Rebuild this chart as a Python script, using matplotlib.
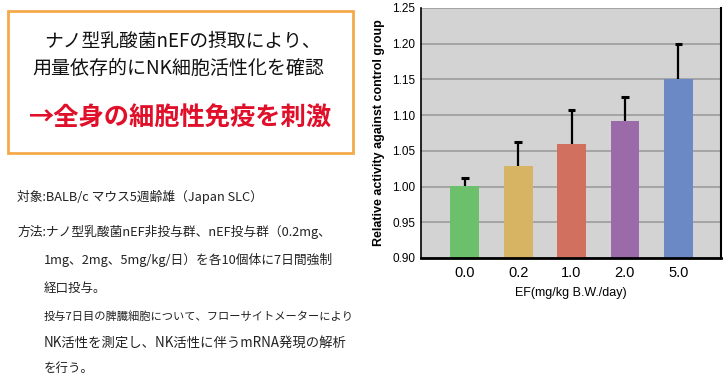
"""
NK cell activity vs. nEF dose, with the Japanese summary panel on the left
"""

import matplotlib.pyplot as plt
from matplotlib.patches import Rectangle

plt.rcParams['font.family'] = ['Noto Sans CJK JP', 'DejaVu Sans']

doses = ["0.0", "0.2", "1.0", "2.0", "5.0"]
activity = [1.001, 1.029, 1.060, 1.092, 1.151]
err_upper = [0.011, 0.034, 0.047, 0.034, 0.049]
bar_colors = ["#6cc06c", "#d6b463", "#d2705f", "#9b6aa9", "#6b89c4"]
y_ticks = [0.90, 0.95, 1.00, 1.05, 1.10, 1.15, 1.20, 1.25]

headline = ["ナノ型乳酸菌nEFの摂取により、", "用量依存的にNK細胞活性化を確認"]
punchline = "→全身の細胞性免疫を刺激"
notes = [
    "対象:BALB/c マウス5週齢雄（Japan SLC）",
    "方法:ナノ型乳酸菌nEF非投与群、nEF投与群（0.2mg、",
    "1mg、2mg、5mg/kg/日）を各10個体に7日間強制",
    "経口投与。",
    "投与7日目の脾臓細胞について、フローサイトメーターにより",
    "NK活性を測定し、NK活性に伴うmRNA発現の解析",
    "を行う。",
]
note_x = [17, 17, 44, 44, 44, 44, 44]
note_y = [197, 232, 260, 288, 316, 343, 368]
note_size = [9.2, 9.2, 9.2, 9.0, 8.1, 9.6, 9.0]

W, H = 728, 378
fig = plt.figure(figsize=(W / 100, H / 100), dpi=100)

# orange frame around the headline
box = Rectangle((8 / W, 1 - 153 / H), 345 / W, 142 / H, transform=fig.transFigure,
                fill=False, edgecolor="#f4aa4b", linewidth=2)
fig.add_artist(box)

fig.text(182 / W, 1 - 41 / H, headline[0], ha="center", va="center", fontsize=13.5, color="#111111")
fig.text(178 / W, 1 - 68 / H, headline[1], ha="center", va="center", fontsize=13.7, color="#111111")
fig.text(180 / W, 1 - 118 / H, punchline, ha="center", va="center", fontsize=18.2,
         fontweight="bold", color="#e0102a")

for line, x0, y0, fs in zip(notes, note_x, note_y, note_size):
    fig.text(x0 / W, 1 - y0 / H, line, ha="left", va="center", fontsize=fs, color="#222222")

# bar chart
ax = fig.add_axes([421 / W, 1 - 258 / H, 300 / W, 250 / H])
ax.set_facecolor("#d3d3d3")
x = list(range(len(doses)))
ax.bar(x, activity, width=0.54, color=bar_colors, zorder=2)

# upper-only error bars with a cap on top
tops = [a + e for a, e in zip(activity, err_upper)]
ax.vlines(x, activity, tops, color="black", linewidth=1.6, zorder=3)
ax.hlines(tops, [i - 0.07 for i in x], [i + 0.07 for i in x], color="black", linewidth=2.2, zorder=3)

ax.set_ylim(0.90, 1.25)
ax.set_xlim(-0.82, 4.8)
ax.set_yticks(y_ticks)
ax.set_yticklabels([f"{t:.2f}" for t in y_ticks], fontsize=8.5, family="Liberation Sans")
ax.set_xticks(x)
ax.set_xticklabels(doses, fontsize=10.5, family="Liberation Sans")
ax.tick_params(axis="both", length=0, pad=4)
ax.tick_params(axis="x", pad=6)

ax.yaxis.grid(True, color="#9c9c9c", linewidth=1.2, zorder=1)
ax.set_axisbelow(True)

ax.spines["top"].set_visible(False)
ax.spines["left"].set_linewidth(1.2)
ax.spines["right"].set_linewidth(1.5)
ax.spines["bottom"].set_linewidth(2)

ax.set_xlabel("EF(mg/kg B.W./day)", fontsize=9, family="Liberation Sans", labelpad=5)
ax.set_ylabel("Relative activity against control group", fontsize=9, fontweight="bold",
              family="Liberation Sans", labelpad=5)

plt.savefig("out.png", dpi=100)
